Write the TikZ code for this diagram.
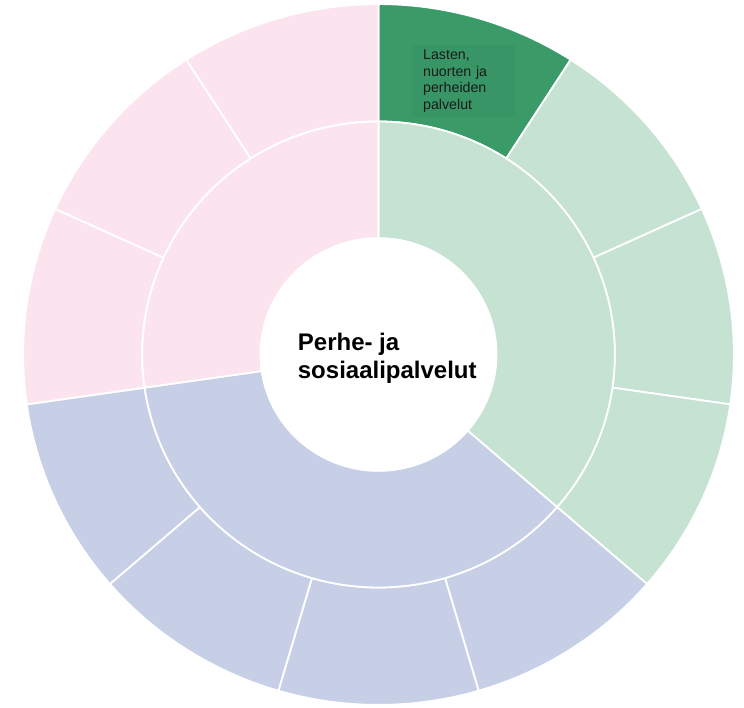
\documentclass[tikz,border=0pt]{standalone}
\usepackage{fontspec}
\setmainfont{Liberation Sans}
\usepackage{xcolor}
\definecolor{Leaf}{HTML}{3A9B69}
\definecolor{LeafPale}{HTML}{C5E2D3}
\definecolor{Rose}{HTML}{FCE4EF}
\definecolor{Slate}{HTML}{C6CFE6}

\begin{document}
\begin{tikzpicture}[x=1pt,y=1pt,
    sector/.style={draw=white,line width=1.8pt,line join=round},
    hub/.style={fill=white,draw=none},
    title/.style={align=left,inner sep=0pt,font=\bfseries\fontsize{24}{28.3}\selectfont},
    tag/.style={fill=Leaf!97!black,align=left,text width=81pt,inner xsep=11pt,inner ysep=4.5pt,text=black!90,font=\fontsize{14.2}{16.6}\selectfont}
  ]
    \useasboundingbox (0,0) rectangle (744,707);
    \begin{scope}[shift={(378.5,352.5)},yscale=0.986]
      % outer ring, eleven equal pieces
      \foreach \k/\col in {0/Leaf,1/LeafPale,2/LeafPale,3/LeafPale,4/Slate,5/Slate,6/Slate,7/Slate,8/Rose,9/Rose,10/Rose}{
        \pgfmathsetmacro{\a}{90-\k*360/11}
        \pgfmathsetmacro{\b}{90-(\k+1)*360/11}
        \draw[sector,fill=\col] (\a:236.3) -- (\a:355.4) arc[start angle=\a,end angle=\b,radius=355.4] -- (\b:236.3) arc[start angle=\b,end angle=\a,radius=236.3] -- cycle;
      }
      % inner ring
      \foreach \a/\b/\col in {90/-40.909/LeafPale,-40.909/-171.818/Slate,-171.818/-270/Rose}{
        \draw[sector,fill=\col] (\a:118) -- (\a:236.3) arc[start angle=\a,end angle=\b,radius=236.3] -- (\b:118) arc[start angle=\b,end angle=\a,radius=118] -- cycle;
      }
      \fill[hub] (0,0) circle[radius=118.5];
    \end{scope}
    \node[title,anchor=base west] (hubtext) at (297.7,328) {Perhe- ja\\sosiaalipalvelut};
    \node[tag,anchor=north west] (lasten) at (412,662) {Lasten,\\nuorten ja\\perheiden\\palvelut};
\end{tikzpicture}
\end{document}
